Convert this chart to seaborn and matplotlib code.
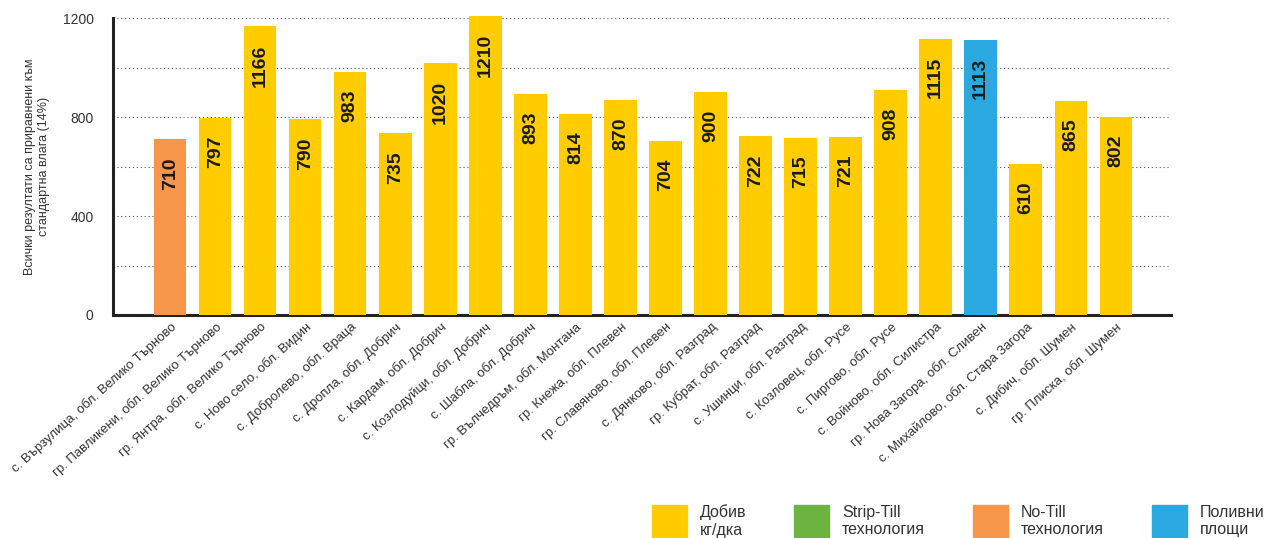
import pandas as pd
import numpy as np
import matplotlib.pyplot as plt
import seaborn as sns
from matplotlib.patches import Patch

# Данни
места = [
    "с. Вързулица, обл. Велико Търново",
    "гр. Павликени, обл. Велико Търново",
    "гр. Янтра, обл. Велико Търново",
    "с. Ново село, обл. Видин",
    "с. Добролево, обл. Враца",
    "с. Дропла, обл. Добрич",
    "с. Кардам, обл. Добрич",
    "с. Козлодуйци, обл. Добрич",
    "с. Шабла, обл. Добрич",
    "гр. Вълчедръм, обл. Монтана",
    "гр. Кнежа, обл. Плевен",
    "гр. Славяново, обл. Плевен",
    "с. Дянково, обл. Разград",
    "гр. Кубрат, обл. Разград",
    "с. Ушинци, обл. Разград",
    "с. Козловец, обл. Русе",
    "с. Пиргово, обл. Русе",
    "с. Войново, обл. Силистра",
    "гр. Нова Загора, обл. Сливен",
    "с. Михайлово, обл. Стара Загора",
    "с. Дибич, обл. Шумен",
    "гр. Плиска, обл. Шумен",
]
добив = [710, 797, 1166, 790, 983, 735, 1020, 1210, 893, 814, 870, 704,
         900, 722, 715, 721, 908, 1115, 1113, 610, 865, 802]
вид = ["No-Till", "Добив", "Добив", "Добив", "Добив", "Добив", "Добив",
       "Добив", "Добив", "Добив", "Добив", "Добив", "Добив", "Добив",
       "Добив", "Добив", "Добив", "Добив", "Поливни", "Добив", "Добив", "Добив"]

легенда_етикети = ["Добив\nкг/дка", "Strip-Till\nтехнология",
                   "No-Till\nтехнология", "Поливни\nплощи"]
цветове = {"Добив": "#FFCC00", "Strip-Till": "#6DB33F",
           "No-Till": "#F5964B", "Поливни": "#29A9E0"}

df = pd.DataFrame({"място": места, "добив": добив, "вид": вид})

sns.set_style("white")
plt.rcParams["font.family"] = ["Liberation Sans", "DejaVu Sans"]

fig = plt.figure(figsize=(12.65, 5.38), dpi=100)
ax = fig.add_axes([0.0893, 0.4145, 0.8365, 0.552])

sns.barplot(data=df, x="място", y="добив", hue="вид", palette=цветове,
            dodge=False, width=0.72, saturation=1, linewidth=0,
            legend=False, ax=ax, zorder=3)
for bar in ax.patches:
    bar.set_clip_on(False)

# Стойности в колоните
for i, v in enumerate(добив):
    ax.text(i, v - 72, str(v), rotation=90, ha="center", va="top",
            fontsize=14, fontweight="bold", color="#1a1a1a", zorder=4)

ax.set_ylim(0, 1200)
ax.set_xlim(-1.27, len(места) - 1 + 1.23)
ax.set_yticks([0, 400, 800, 1200])
ax.set_yticks([200, 600, 1000], minor=True)
ax.tick_params(axis="y", which="both", direction="in", length=8, width=1.5,
               color="#222222", labelsize=10, labelcolor="#333333", pad=14)
ax.tick_params(axis="x", length=0, labelsize=9.5, labelcolor="#333333", pad=4)
ax.set_xticks(range(len(места)))
ax.set_xticklabels(места, rotation=42, ha="right", rotation_mode="anchor")

for y in range(200, 1201, 200):
    ax.axhline(y, color="#555555", lw=0.8, ls=(0, (1, 2.5)), zorder=1)

for s in ["top", "right"]:
    ax.spines[s].set_visible(False)
for s in ["left", "bottom"]:
    ax.spines[s].set_linewidth(2.2)
    ax.spines[s].set_color("#222222")

ax.set_xlabel("")
ax.set_ylabel("Всички резултати са приравнени към\nстандартна влага (14%)",
              fontsize=9, color="#333333", labelpad=9)

handles = [Patch(color=цветове[k]) for k in ["Добив", "Strip-Till", "No-Till", "Поливни"]]
fig.legend(handles, легенда_етикети, loc="lower right", bbox_to_anchor=(1.011, -0.03),
           ncol=4, frameon=False, fontsize=11.5, handlelength=2.2, handleheight=3.0,
           handletextpad=0.8, columnspacing=3.0, labelcolor="#333333")

fig.savefig("out.png", dpi=100)
